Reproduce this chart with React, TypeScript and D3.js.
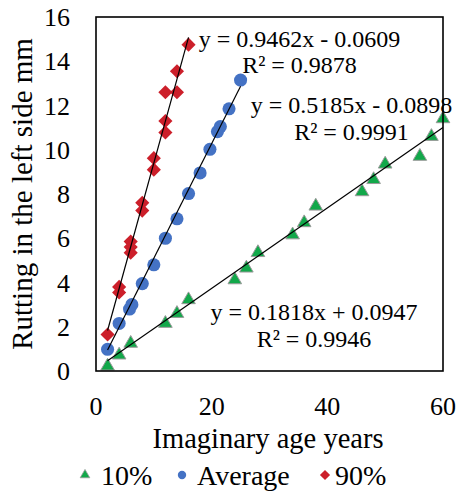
import React from "react";
import * as d3 from "d3";

const W = 458;
const H = 492;

// 10% series
const x10 = [2, 4, 6, 12, 14, 16, 24, 26, 28, 34, 36, 38, 46, 48, 50, 56, 58, 60];
const y10 = [0.22, 0.72, 1.25, 2.15, 2.6, 3.22, 4.12, 4.65, 5.35, 6.15, 6.7, 7.45, 8.1, 8.65, 9.35, 9.7, 10.6, 11.4];
// Average series
const xAvg = [2, 4, 5.8, 6.2, 8, 10, 12, 14, 16, 18, 19.7, 21, 21.5, 23, 25];
const yAvg = [0.98, 2.15, 2.8, 3.0, 3.95, 4.8, 6.0, 6.88, 8.02, 8.95, 10.02, 10.82, 11.05, 11.85, 13.15];
// 90% series
const x90 = [2, 4, 4, 6, 6, 6, 8, 8, 10, 10, 12, 12, 12, 14, 14, 16];
const y90 = [1.65, 3.8, 3.55, 5.85, 5.6, 5.35, 7.6, 7.25, 9.62, 9.1, 11.3, 10.78, 12.6, 12.6, 13.55, 14.75];

const seriesNames = ["10%", "Average", "90%"];
const slopes = [0.1818, 0.5185, 0.9462];
const intercepts = [0.0947, -0.0898, -0.0609];
const eqTexts = ["y = 0.1818x + 0.0947", "y = 0.5185x - 0.0898", "y = 0.9462x - 0.0609"];
const r2Texts = ["R² = 0.9946", "R² = 0.9991", "R² = 0.9878"];

const xTicks = [0, 20, 40, 60];
const yTicks = [0, 2, 4, 6, 8, 10, 12, 14, 16];

const colors = ["#12A84A", "#4472C4", "#CC1F2A"];
const FONT = `"Liberation Serif"`;

export default function App() {
  const left = 96, right = 443, top = 17, bottom = 371;
  const x = d3.scaleLinear().domain([0, 60]).range([left, right]);
  const y = d3.scaleLinear().domain([0, 16]).range([bottom, top]);

  const tri = d3.symbol(d3.symbolTriangle, 80)();
  const circ = d3.symbol(d3.symbolCircle, 135)();
  const dia = d3.symbol(d3.symbolSquare, 100)();
  const triL = d3.symbol(d3.symbolTriangle, 40)();
  const circL = d3.symbol(d3.symbolCircle, 55)();
  const diaL = d3.symbol(d3.symbolSquare, 52)();

  const data = [
    { xs: x10, ys: y10 },
    { xs: xAvg, ys: yAvg },
    { xs: x90, ys: y90 },
  ];

  const line = d3.line<[number, number]>().x((d) => x(d[0])).y((d) => y(d[1]));

  const eqPos = [
    { cx: 314, by: 320 },
    { cx: 351.5, by: 113 },
    { cx: 299.5, by: 46.5 },
  ];

  const txt = { fontFamily: FONT, fill: "#000" } as React.CSSProperties;

  return (
    <svg width={W} height={H} style={{ position: "absolute", left: 0, top: 0, background: "#fff" }}>
      <rect x={0} y={0} width={W} height={H} fill="#fff" />
      {data.map((s, si) =>
        s.xs.map((xv, i) => {
          const px = x(xv), py = y(s.ys[i]);
          if (si === 0)
            return <path key={`m${si}-${i}`} d={tri!} transform={`translate(${px},${py})`} fill={colors[0]} stroke="#9a9a9a" strokeWidth={1} />;
          if (si === 1)
            return <path key={`m${si}-${i}`} d={circ!} transform={`translate(${px},${py})`} fill={colors[1]} />;
          return <path key={`m${si}-${i}`} d={dia!} transform={`translate(${px},${py}) rotate(45)`} fill={colors[2]} />;
        })
      )}
      {data.map((s, si) => {
        const x0 = d3.min(s.xs)!, x1 = d3.max(s.xs)!;
        const pts: [number, number][] = [x0, x1].map((xv) => [xv, slopes[si] * xv + intercepts[si]]);
        return <path key={`t${si}`} d={line(pts)!} fill="none" stroke="#000" strokeWidth={1.2} />;
      })}
      <rect x={left} y={top} width={right - left} height={bottom - top} fill="none" stroke="#000" strokeWidth={1.6} />
      {yTicks.map((t) => (
        <text key={`yt${t}`} x={70} y={y(t)} dy="0.35em" textAnchor="end" style={{ ...txt, fontSize: 26 }}>
          {t}
        </text>
      ))}
      {xTicks.map((t) => (
        <text key={`xt${t}`} x={x(t)} y={406} dy="0.35em" textAnchor="middle" style={{ ...txt, fontSize: 26 }}>
          {t}
        </text>
      ))}
      <text x={268} y={438} dy="0.35em" textAnchor="middle" style={{ ...txt, fontSize: 28.5 }}>
        Imaginary age years
      </text>
      <text transform={`translate(22,194) rotate(-90)`} dy="0.35em" textAnchor="middle" style={{ ...txt, fontSize: 29 }}>
        Rutting in the left side mm
      </text>
      {eqPos.map((p, i) => (
        <g key={`eq${i}`}>
          <text x={p.cx} y={p.by} textAnchor="middle" style={{ ...txt, fontSize: 24 }}>
            {eqTexts[i]}
          </text>
          <text x={p.cx} y={p.by + 26.5} textAnchor="middle" style={{ ...txt, fontSize: 24 }}>
            {r2Texts[i]}
          </text>
        </g>
      ))}
      <g>
        <path d={triL!} transform={`translate(85,475)`} fill={colors[0]} stroke="#9a9a9a" strokeWidth={0.8} />
        <text x={101} y={475} dy="0.35em" style={{ ...txt, fontSize: 28 }}>{seriesNames[0]}</text>
        <path d={circL!} transform={`translate(182,475)`} fill={colors[1]} />
        <text x={197} y={475} dy="0.35em" style={{ ...txt, fontSize: 28 }}>{seriesNames[1]}</text>
        <path d={diaL!} transform={`translate(325,475) rotate(45)`} fill={colors[2]} />
        <text x={335} y={475} dy="0.35em" style={{ ...txt, fontSize: 28 }}>{seriesNames[2]}</text>
      </g>
    </svg>
  );
}
